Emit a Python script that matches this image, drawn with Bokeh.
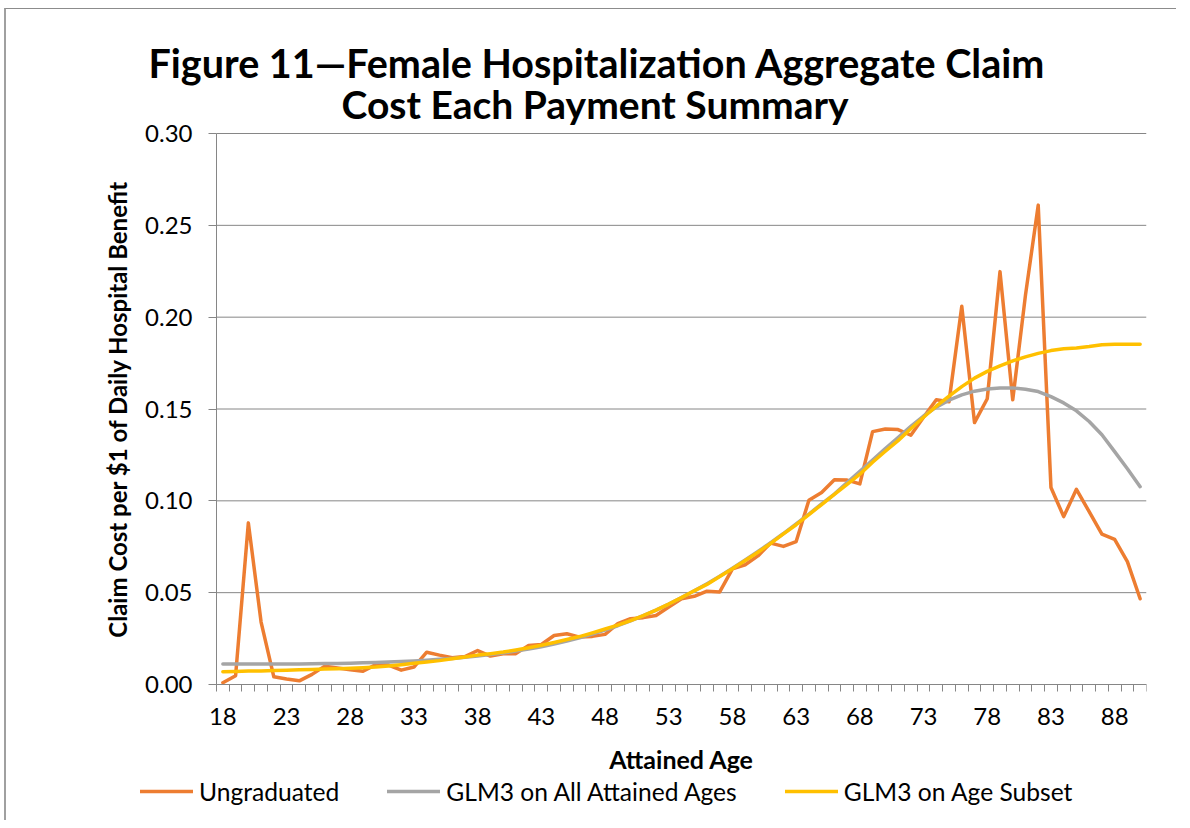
from bokeh.plotting import figure
from bokeh.models import Range1d, FixedTicker, Title, Legend, LegendItem, CustomJSTickFormatter
from bokeh.embed import file_html
from bokeh.resources import INLINE

# ---- data ----
ages = list(range(18, 91))

ungraduated = [
    0.0010, 0.0048, 0.0880, 0.0340, 0.0042, 0.0030, 0.0020, 0.0055, 0.0100, 0.0090,  # 18-27
    0.0080, 0.0072, 0.0108, 0.0106, 0.0078, 0.0095, 0.0176, 0.0160, 0.0146, 0.0152,  # 28-37
    0.0185, 0.0155, 0.0167, 0.0168, 0.0213, 0.0218, 0.0267, 0.0276, 0.0258, 0.0262,  # 38-47
    0.0273, 0.0331, 0.0358, 0.0364, 0.0376, 0.0422, 0.0467, 0.0480, 0.0508, 0.0504,  # 48-57
    0.0630, 0.0652, 0.0700, 0.0770, 0.0752, 0.0778, 0.1003, 0.1045, 0.1115, 0.1113,  # 58-67
    0.1092, 0.1377, 0.1391, 0.1388, 0.1357, 0.1455, 0.1550, 0.1540, 0.2060, 0.1426,  # 68-77
    0.1556, 0.2248, 0.1550, 0.2120, 0.2610, 0.1073, 0.0914, 0.1063, 0.0941, 0.0819,  # 78-87
    0.0790, 0.0669, 0.0467,                                                          # 88-90
]

glm3_all_ages = [
    0.0112, 0.0112, 0.0112, 0.0112, 0.0112, 0.0112, 0.0112, 0.0113, 0.0114, 0.0115,  # 18-27
    0.0116, 0.0118, 0.0120, 0.0122, 0.0125, 0.0128, 0.0132, 0.0137, 0.0142, 0.0148,  # 28-37
    0.0155, 0.0163, 0.0172, 0.0182, 0.0193, 0.0206, 0.0220, 0.0236, 0.0254, 0.0274,  # 38-47
    0.0296, 0.0320, 0.0346, 0.0375, 0.0405, 0.0438, 0.0473, 0.0510, 0.0549, 0.0590,  # 48-57
    0.0633, 0.0678, 0.0724, 0.0772, 0.0822, 0.0875, 0.0928, 0.0983, 0.1037, 0.1100,  # 58-67
    0.1160, 0.1222, 0.1285, 0.1345, 0.1405, 0.1462, 0.1510, 0.1548, 0.1577, 0.1597,  # 68-77
    0.1609, 0.1614, 0.1615, 0.1608, 0.1595, 0.1567, 0.1533, 0.1490, 0.1432, 0.1360,  # 78-87
    0.1268, 0.1175, 0.1077,                                                          # 88-90
]

glm3_age_subset = [
    0.0070, 0.0071, 0.0073, 0.0074, 0.0076, 0.0078, 0.0080, 0.0082, 0.0084, 0.0086,  # 18-27
    0.0088, 0.0091, 0.0095, 0.0101, 0.0108, 0.0116, 0.0123, 0.0130, 0.0140, 0.0150,  # 28-37
    0.0160, 0.0168, 0.0177, 0.0188, 0.0200, 0.0214, 0.0229, 0.0245, 0.0261, 0.0281,  # 38-47
    0.0302, 0.0323, 0.0348, 0.0375, 0.0405, 0.0438, 0.0473, 0.0510, 0.0545, 0.0588,  # 48-57
    0.0630, 0.0675, 0.0720, 0.0768, 0.0820, 0.0870, 0.0925, 0.0980, 0.1035, 0.1090,  # 58-67
    0.1145, 0.1210, 0.1270, 0.1328, 0.1392, 0.1455, 0.1515, 0.1570, 0.1622, 0.1668,  # 68-77
    0.1705, 0.1735, 0.1762, 0.1784, 0.1803, 0.1818, 0.1828, 0.1832, 0.1840, 0.1850,  # 78-87
    0.1853, 0.1853, 0.1853,                                                          # 88-90
]

x_tick_labels = [18, 23, 28, 33, 38, 43, 48, 53, 58, 63, 68, 73, 78, 83, 88]
y_ticks = [0.00, 0.05, 0.10, 0.15, 0.20, 0.25, 0.30]

title_line1 = "Figure 11\u2014Female Hospitalization Aggregate Claim"
title_line2 = "Cost Each Payment Summary"
x_title = "Attained Age"
y_title = "Claim Cost per $1 of Daily Hospital Benefit"
series_names = ["Ungraduated", "GLM3 on All Attained Ages", "GLM3 on Age Subset"]
series_colors = ["#ED7D31", "#A5A5A5", "#FFC000"]

FONT = "Lato"
AXIS_GRAY = "#868686"

# category slots: ages 18..90, one slot each
x_lo, x_hi = ages[0] - 0.5, ages[-1] + 0.5
y_lo, y_hi = 0.0, 0.30
# the plotting frame is extended to the left, above and below so that the axes
# (drawn at fixed locations), their labels and the legend all sit inside it
px_per_age = 930 / (x_hi - x_lo)
px_per_unit = 551 / (y_hi - y_lo)
left_extra, bottom_extra, top_extra = 126, 134, 16

p = figure(
    frame_width=930 + left_extra, frame_height=551 + bottom_extra + top_extra,
    min_border_left=84, min_border_right=30, min_border_top=124 - top_extra,
    min_border_bottom=2,
    x_range=Range1d(x_lo - left_extra / px_per_age, x_hi),
    y_range=Range1d(y_lo - bottom_extra / px_per_unit, y_hi + top_extra / px_per_unit),
    output_backend="svg", toolbar_location=None,
)
p.outline_line_color = None
p.background_fill_color = "white"
p.border_fill_color = "white"

# titles (line 2 first so that it sits closest to the plot)
t2 = Title(text=title_line2, align="left", offset=251, text_font=FONT,
           text_font_size="39px", text_font_style="bold", text_color="black",
           standoff=2 - top_extra - 5)
t1 = Title(text=title_line1, align="left", offset=58, text_font=FONT,
           text_font_size="39.5px", text_font_style="bold", text_color="black",
           standoff=5)
p.add_layout(t2, "above")
p.add_layout(t1, "above")

# horizontal gridlines at the y ticks, spanning the category slots only
p.xgrid.grid_line_color = None
p.ygrid.grid_line_color = None
p.segment(x0=[x_lo] * len(y_ticks), x1=[x_hi] * len(y_ticks), y0=y_ticks, y1=y_ticks,
          line_color=AXIS_GRAY, line_width=1, level="underlay")

# x axis: category style, ticks between ages, labels every 5
p.xaxis.fixed_location = y_lo
p.xaxis.bounds = (x_lo, x_hi)
p.xaxis.ticker = FixedTicker(ticks=x_tick_labels,
                             minor_ticks=[a - 0.5 for a in ages] + [ages[-1] + 0.5])
p.xaxis.major_tick_in = 0
p.xaxis.major_tick_out = 0
p.xaxis.minor_tick_in = 0
p.xaxis.minor_tick_out = 7
p.xaxis.minor_tick_line_color = AXIS_GRAY
p.xaxis.axis_line_color = AXIS_GRAY
p.xaxis.major_label_standoff = 16
p.xaxis.major_label_text_font = FONT
p.xaxis.major_label_text_font_size = "24px"
p.xaxis.major_label_text_color = "black"
p.xaxis.axis_label = x_title
p.xaxis.axis_label_text_font = FONT
p.xaxis.axis_label_text_font_size = "25px"
p.xaxis.axis_label_text_font_style = "bold"
p.xaxis.axis_label_text_color = "black"
p.xaxis.axis_label_standoff = 16

# y axis
p.yaxis.fixed_location = x_lo
p.yaxis.bounds = (y_lo, y_hi)
p.yaxis.ticker = FixedTicker(ticks=y_ticks, minor_ticks=[])
p.yaxis.formatter = CustomJSTickFormatter(code="return tick.toFixed(2);")
p.yaxis.major_tick_in = 0
p.yaxis.major_tick_out = 8
p.yaxis.major_tick_line_color = AXIS_GRAY
p.yaxis.minor_tick_out = 0
p.yaxis.minor_tick_in = 0
p.yaxis.axis_line_color = AXIS_GRAY
p.yaxis.major_label_standoff = 16
p.yaxis.major_label_text_font = FONT
p.yaxis.major_label_text_font_size = "24px"
p.yaxis.major_label_text_color = "black"
p.yaxis.axis_label = y_title
p.yaxis.axis_label_text_font = FONT
p.yaxis.axis_label_text_font_size = "24px"
p.yaxis.axis_label_text_font_style = "bold"
p.yaxis.axis_label_text_color = "black"
p.yaxis.axis_label_standoff = 10

r_ung = p.line(ages, ungraduated, line_color=series_colors[0], line_width=3.5,
               line_join="round", line_cap="round")
r_all = p.line(ages, glm3_all_ages, line_color=series_colors[1], line_width=3.5,
               line_join="round", line_cap="round")
r_sub = p.line(ages, glm3_age_subset, line_color=series_colors[2], line_width=3.5,
               line_join="round", line_cap="round")

legend = Legend(
    items=[LegendItem(label=series_names[0], renderers=[r_ung]),
           LegendItem(label=series_names[1], renderers=[r_all]),
           LegendItem(label=series_names[2], renderers=[r_sub])],
    orientation="horizontal",
    location=(50, 12),
    label_text_font=FONT, label_text_font_size="24.6px", label_text_color="black",
    glyph_width=53, glyph_height=30, label_standoff=6, spacing=48,
    padding=0, margin=0, border_line_color=None, background_fill_alpha=0,
)
p.add_layout(legend, "center")

p.styles = {"margin-left": "4px", "margin-top": "8px",
            "border-top": "1px solid #8c8c8c", "border-left": "2px solid #a0a0a0"}

open("out.html", "w").write(file_html(p, INLINE))
